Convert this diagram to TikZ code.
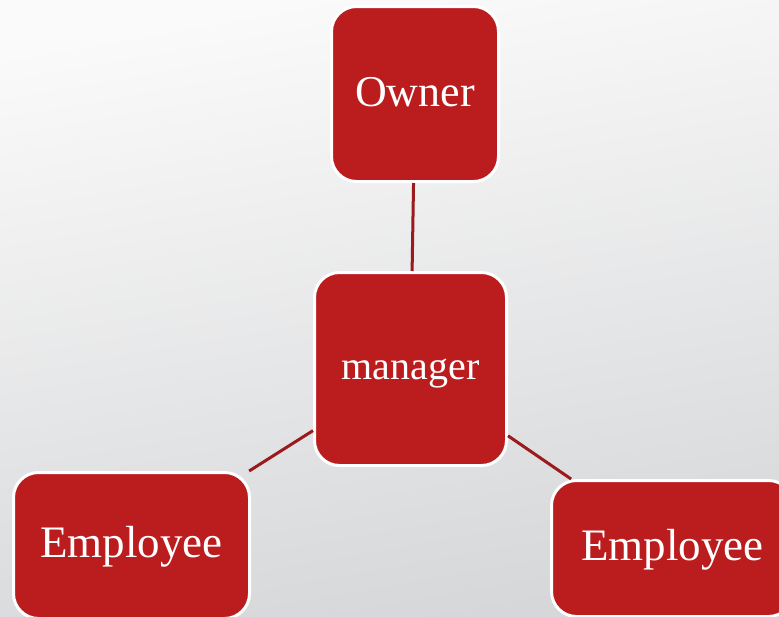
\documentclass[tikz,border=0pt]{standalone}
\usepackage{fontspec}
\setmainfont{Liberation Serif}
\definecolor{boxred}{HTML}{BB1C1E}
\definecolor{linkred}{HTML}{9A1A1D}
\definecolor{bgtop}{HTML}{FAFAFA}
\definecolor{bgbot}{HTML}{D6D7D9}
\newcommand{\baseat}[2]{\raisebox{-#1}[0pt][0pt]{#2}}
\begin{document}
\begin{tikzpicture}[x=1pt,y=-1pt,
  boxnode/.style={draw=white,line width=3pt,fill=boxred,rounded corners=25pt,
    text=white,inner sep=0pt},
  link/.style={draw=linkred,line width=3pt}]
\useasboundingbox (0,0) rectangle (779,616);
\shade[top color=bgtop,bottom color=bgbot,shading angle=10] (0,0) rectangle (779,616);
\node[boxnode,minimum width=167pt,minimum height=175pt,font=\fontsize{44}{44}\selectfont] (owner) at (415,94) {\baseat{12pt}{Owner}};
\node[boxnode,minimum width=192pt,minimum height=193pt,font=\fontsize{40}{40}\selectfont] (manager) at (410.5,369) {\baseat{10pt}{manager}};
\node[boxnode,minimum width=236pt,minimum height=146pt,font=\fontsize{45}{45}\selectfont] (empl) at (131.5,545.5) {\baseat{11.5pt}{Employee}};
\node[boxnode,minimum width=242pt,minimum height=136pt,font=\fontsize{45}{45}\selectfont] (empr) at (672.5,548.5) {\baseat{11.5pt}{Employee}};
\draw[link] (owner) -- (manager);
\draw[link] (manager) -- (empl);
\draw[link] (manager) -- (empr);
\end{tikzpicture}
\end{document}
